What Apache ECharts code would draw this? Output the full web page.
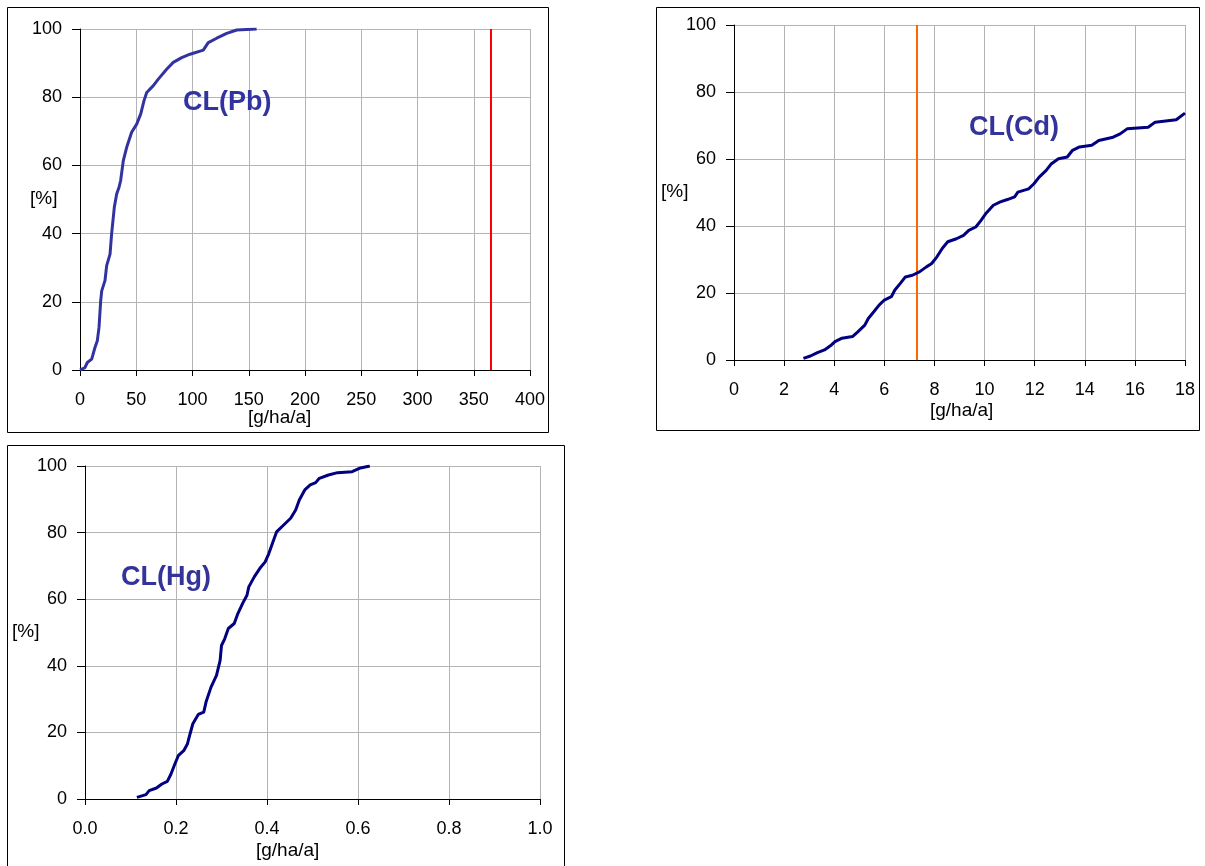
<!DOCTYPE html>
<html>
<head>
<meta charset="utf-8">
<script src="https://cdn.jsdelivr.net/npm/echarts@6/dist/echarts.min.js"></script>
<style>
html,body{margin:0;padding:0;background:#fff;}
#c{width:1205px;height:866px;}
</style>
</head>
<body>
<div id="c"></div>
<script>
// ---- Data ----
const pbData = [[0,0],[4.4,0.7],[6.5,2.2],[10.4,3.2],[13.3,6.6],[15.4,8.6],[16.9,12.5],[18.4,20.3],[19.3,23.2],[22.2,26.2],[23.7,30.6],[26.7,34],[28.1,39.9],[30.5,47.7],[32.6,51.6],[34.7,53.6],[36.1,55.5],[38.5,61.4],[41.5,65.3],[45.9,69.7],[50.4,72.1],[54,75.1],[56.9,79],[59.3,81.4],[65.2,83.4],[69.6,85.3],[77,88.2],[82.9,90.2],[90.4,91.6],[97.8,92.6],[109.6,93.8],[114,96],[121.5,97.3],[130.4,98.7],[139.3,99.7],[157,100]];
const cdData = [[2.77,0.5],[3.05,1.2],[3.33,2.2],[3.61,3],[3.89,4.5],[4.03,5.5],[4.31,6.5],[4.73,7],[4.94,8.4],[5.22,10.4],[5.36,12.4],[5.58,14.4],[5.79,16.4],[6.0,17.9],[6.28,18.9],[6.42,20.9],[6.63,22.8],[6.84,24.8],[7.12,25.3],[7.4,26.3],[7.68,27.8],[7.89,28.8],[8.1,30.8],[8.31,33.3],[8.53,35.3],[8.88,36.2],[9.16,37.2],[9.37,38.7],[9.65,39.7],[9.86,41.7],[10.07,43.9],[10.35,46.2],[10.63,47.2],[10.91,47.9],[11.2,48.7],[11.33,50.1],[11.76,51.1],[11.97,52.6],[12.18,54.6],[12.46,56.6],[12.67,58.6],[12.95,60.1],[13.3,60.6],[13.51,62.6],[13.79,63.6],[14.28,64.1],[14.56,65.5],[15.13,66.5],[15.41,67.5],[15.69,69],[16.53,69.5],[16.81,71],[17.65,71.7],[18.0,73.7]];
const hgData = [[0.114,0.5],[0.134,1.3],[0.141,2.5],[0.157,3.3],[0.169,4.5],[0.181,5.3],[0.189,7.5],[0.196,10],[0.205,13],[0.217,14.5],[0.225,16.5],[0.231,19.6],[0.237,22.6],[0.249,25.4],[0.261,26.1],[0.266,29.1],[0.277,33.6],[0.289,37.1],[0.297,41.6],[0.300,46.1],[0.307,48.1],[0.315,51.2],[0.328,52.7],[0.336,55.7],[0.347,58.9],[0.356,61.2],[0.360,63.7],[0.372,66.7],[0.384,69.2],[0.396,71.2],[0.404,73.7],[0.413,77.2],[0.421,80.2],[0.436,82.2],[0.452,84.3],[0.463,86.8],[0.471,89.8],[0.483,92.8],[0.495,94.3],[0.507,95],[0.515,96.3],[0.535,97.3],[0.555,98],[0.587,98.3],[0.603,99.3],[0.626,100]];
const pbLimit = 365;
const cdLimit = 7.3;
const labels = ['CL(Pb)', 'CL(Cd)', 'CL(Hg)'];
const xUnit = '[g/ha/a]';
const yUnit = '[%]';

// ---- Chart ----
const FONT = 'Liberation Sans, Arial, sans-serif';
const chart = echarts.init(document.getElementById('c'), null, {renderer: 'canvas'});

function xAxis(gi, max, interval, fmt) {
  return {
    type: 'value', gridIndex: gi, min: 0, max: max, interval: interval,
    axisLine: {show: true, onZero: false, lineStyle: {color: '#000', width: 1}},
    axisTick: {show: true, length: 6, lineStyle: {color: '#000'}},
    axisLabel: {color: '#000', fontSize: 18, fontFamily: FONT, margin: 21, formatter: fmt},
    splitLine: {show: true, lineStyle: {color: '#b4b4b4', width: 1}}
  };
}
function yAxis(gi) {
  return {
    type: 'value', gridIndex: gi, min: 0, max: 100, interval: 20,
    axisLine: {show: true, lineStyle: {color: '#000', width: 1}},
    axisTick: {show: true, length: 8, lineStyle: {color: '#000'}},
    axisLabel: {color: '#000', fontSize: 18, fontFamily: FONT, margin: 18},
    splitLine: {show: true, lineStyle: {color: '#b4b4b4', width: 1}}
  };
}
function txt(x, y, s, size, color, weight) {
  return {type: 'text', left: x, top: y, z: 100,
    style: {text: s, fontSize: size, fontFamily: FONT, fill: color, fontWeight: weight || 'normal'}};
}

const option = {
  animation: false,
  backgroundColor: '#fff',
  grid: [
    {left: 80, top: 29, width: 450, height: 341},
    {left: 734, top: 25, width: 451, height: 335},
    {left: 85, top: 466, width: 455, height: 333}
  ],
  xAxis: [
    xAxis(0, 400, 50),
    xAxis(1, 18, 2),
    xAxis(2, 1, 0.2, v => v.toFixed(1))
  ],
  yAxis: [yAxis(0), yAxis(1), yAxis(2)],
  series: [
    {type: 'line', xAxisIndex: 0, yAxisIndex: 0, data: pbData, symbol: 'none',
     lineStyle: {color: '#3333a0', width: 3}, z: 5,
     markLine: {silent: true, symbol: 'none', label: {show: false},
       lineStyle: {color: '#ff0000', width: 2, type: 'solid'}, data: [{xAxis: pbLimit}]}},
    {type: 'line', xAxisIndex: 1, yAxisIndex: 1, data: cdData, symbol: 'none',
     lineStyle: {color: '#000080', width: 3}, z: 5,
     markLine: {silent: true, symbol: 'none', label: {show: false},
       lineStyle: {color: '#ff6600', width: 2, type: 'solid'}, data: [{xAxis: cdLimit}]}},
    {type: 'line', xAxisIndex: 2, yAxisIndex: 2, data: hgData, symbol: 'none',
     lineStyle: {color: '#000080', width: 3}, z: 5}
  ],
  graphic: [
    {type: 'rect', shape: {x: 7.5, y: 7.5, width: 541, height: 425}, style: {fill: 'none', stroke: '#000', lineWidth: 1}, z: 0},
    {type: 'rect', shape: {x: 656.5, y: 7.5, width: 543, height: 423}, style: {fill: 'none', stroke: '#000', lineWidth: 1}, z: 0},
    {type: 'rect', shape: {x: 7.5, y: 445.5, width: 557, height: 430}, style: {fill: 'none', stroke: '#000', lineWidth: 1}, z: 0},
    txt(183, 89, labels[0], 27, '#3333a0', 'bold'),
    txt(969, 114, labels[1], 27, '#333399', 'bold'),
    txt(121, 564, labels[2], 27, '#333399', 'bold'),
    txt(30, 189, yUnit, 19, '#000'),
    txt(661, 182, yUnit, 19, '#000'),
    txt(12, 622, yUnit, 19, '#000'),
    txt(248, 408, xUnit, 19, '#000'),
    txt(930, 401, xUnit, 19, '#000'),
    txt(256, 841, xUnit, 19, '#000')
  ]
};
chart.setOption(option);
</script>
</body>
</html>
